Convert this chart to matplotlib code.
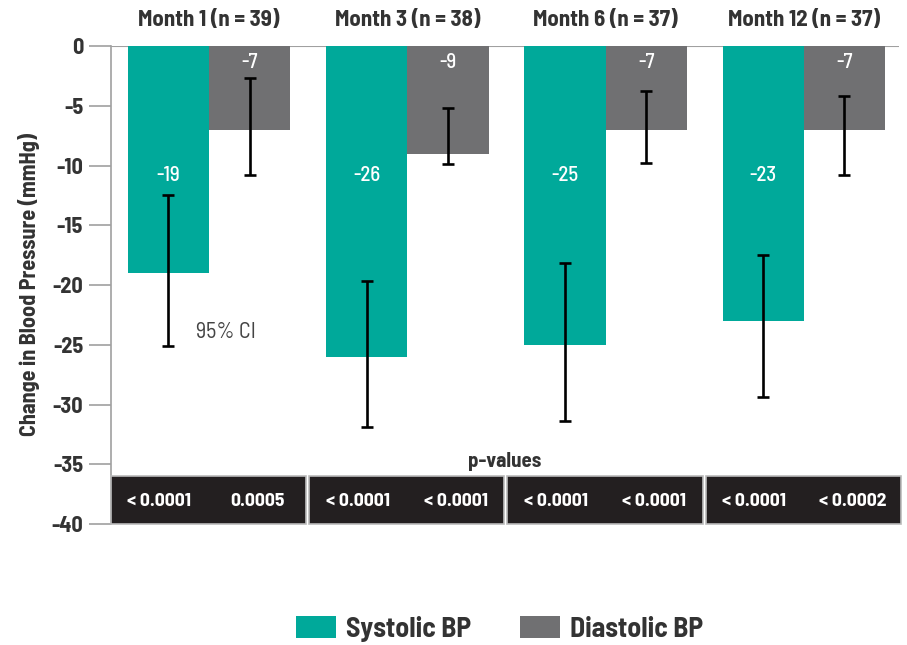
import numpy as np
import matplotlib.pyplot as plt
from matplotlib.patches import Rectangle
from matplotlib import font_manager

# prefer a semi-condensed face with a bold weight, then any narrow one
weights = {}
for f in font_manager.fontManager.ttflist:
    w = f.weight if isinstance(f.weight, int) else font_manager.weight_dict.get(f.weight, 400)
    weights.setdefault(f.name, set()).add(w)
skip = ("Light", "Thin", "Extra", "Medium", "Black", "Mono")
narrow = [n for n in sorted(weights)
          if ("Narrow" in n or "Condensed" in n) and not any(s in n for s in skip)
          and max(weights[n]) >= 700]
semi = [n for n in narrow if "SemiCondensed" in n or "Semi Condensed" in n]
FONT = (semi or narrow or ["Roboto"])[0]
plt.rcParams["font.family"] = [FONT, "DejaVu Sans"]
plt.rcParams["axes.unicode_minus"] = False

months = ["Month 1 (n = 39)", "Month 3 (n = 38)", "Month 6 (n = 37)", "Month 12 (n = 37)"]
systolic = [-19, -26, -25, -23]
diastolic = [-7, -9, -7, -7]
sys_lo = [-25.1, -31.9, -31.4, -29.4]
sys_hi = [-12.5, -19.7, -18.2, -17.5]
dia_lo = [-10.8, -9.9, -9.8, -10.8]
dia_hi = [-2.7, -5.2, -3.8, -4.2]
p_sys = ["< 0.0001", "< 0.0001", "< 0.0001", "< 0.0001"]
p_dia = ["0.0005", "< 0.0001", "< 0.0001", "< 0.0002"]

teal = "#00a99a"
grey = "#707072"
txt = "#333333"

fig = plt.figure(figsize=(9.07, 6.45), dpi=100)
ax = fig.add_axes([111 / 907, 1 - 524 / 645, (899 - 111) / 907, (524 - 46) / 645])

x = np.arange(len(months))
w = 0.41
sx = x - w / 2
dx = x + w / 2
ax.bar(sx, systolic, width=w, color=teal, label="Systolic BP", zorder=2)
ax.bar(dx, diastolic, width=w, color=grey, label="Diastolic BP", zorder=2)

# 95% CI whiskers
sys_mid = (np.array(sys_lo) + np.array(sys_hi)) / 2
dia_mid = (np.array(dia_lo) + np.array(dia_hi)) / 2
ax.errorbar(sx, sys_mid, yerr=(np.array(sys_hi) - np.array(sys_lo)) / 2, fmt="none",
            ecolor="black", elinewidth=1.9, capsize=4.5, capthick=1.9, zorder=3)
ax.errorbar(dx, dia_mid, yerr=(np.array(dia_hi) - np.array(dia_lo)) / 2, fmt="none",
            ecolor="black", elinewidth=1.9, capsize=4.5, capthick=1.9, zorder=3)

for i in range(len(months)):
    ax.text(sx[i], -10.8, str(systolic[i]), color="white", ha="center", va="center",
            fontsize=15, fontweight="medium")
    ax.text(dx[i], -1.4, str(diastolic[i]), color="white", ha="center", va="center",
            fontsize=15, fontweight="medium")
    ax.text(x[i], 2.2, months[i], ha="center", va="center", fontsize=16.5, fontweight="bold", color=txt)
    # p-value strip
    ax.add_patch(Rectangle((x[i] - 0.495, -40), 0.985, 4, facecolor="#231f20",
                           edgecolor="#bbbbbb", linewidth=1.2, zorder=4, clip_on=False))
    ax.text(x[i] - 0.25, -38.1, p_sys[i], color="white", ha="center", va="center",
            fontsize=14, fontweight="bold", zorder=5)
    ax.text(x[i] + 0.245, -38.1, p_dia[i], color="white", ha="center", va="center",
            fontsize=14, fontweight="bold", zorder=5)

ax.text(1.49, -34.8, "p-values", ha="center", va="center", fontsize=15, fontweight="bold", color=txt)
ax.text(0.088, -24.0, "95% CI", ha="center", va="center", fontsize=16, color="#444444")

ax.axhline(0, color="#a0a0a0", linewidth=1.5, zorder=1)
ax.set_xlim(-0.494, 3.48)
ax.set_ylim(-40, 0)
ax.set_yticks(np.arange(-40, 1, 5))
ax.set_xticks([])
for s in ["top", "right", "bottom"]:
    ax.spines[s].set_visible(False)
ax.spines["left"].set_color("#a0a0a0")
ax.spines["left"].set_linewidth(1.2)
ax.tick_params(axis="y", length=16, color="#a0a0a0", width=1.2, labelsize=16, labelcolor=txt, pad=4)
for lab in ax.get_yticklabels():
    lab.set_fontweight("bold")
ax.set_ylabel("Change in Blood Pressure (mmHg)", fontsize=16, fontweight="bold", color=txt, labelpad=8)

leg = fig.legend(loc="lower left", ncol=2, frameon=False, handlelength=1.45,
                 handleheight=0.85, handletextpad=0.35, columnspacing=1.75,
                 borderpad=0, borderaxespad=0, bbox_to_anchor=(296 / 907, 0.005),
                 prop={"weight": "bold", "size": 20})
for t in leg.get_texts():
    t.set_color(txt)

fig.savefig("out.png", dpi=100)
